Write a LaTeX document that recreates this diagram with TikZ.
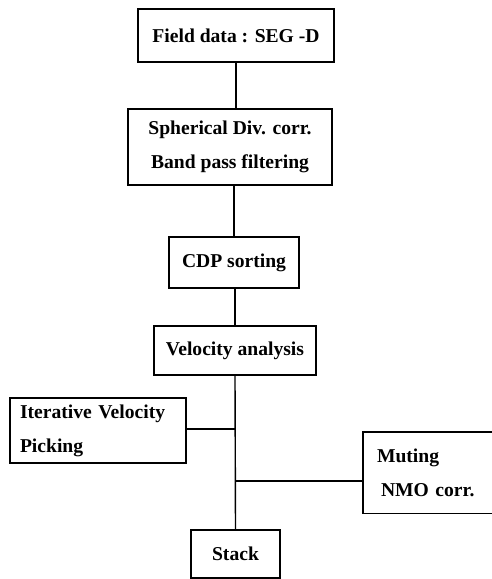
\documentclass[tikz,border=0pt]{standalone}
\usepackage{fontspec}
\setmainfont{Liberation Serif}
\begin{document}
\begin{tikzpicture}[x=1pt,y=-1pt,
  every node/.style={font=\fontsize{19.6}{34}\selectfont\bfseries},
  boxa/.style={draw,line width=1.4pt,inner sep=0pt,align=center},
  link/.style={line width=1.4pt}]
\useasboundingbox (0,0) rectangle (491,579);
\node[boxa,minimum width=196pt,minimum height=53pt] (fd) at (236,35.5) {Field data : SEG -D};
\node[boxa,minimum width=204pt,minimum height=76pt] (sd) at (230,147) {Spherical Div. corr.\\Band pass filtering};
\node[boxa,minimum width=130pt,minimum height=51pt] (cdp) at (234,262.5) {CDP sorting};
\node[boxa,minimum width=162pt,minimum height=49pt] (vel) at (235,350.5) {Velocity analysis};
\node[boxa,minimum width=89pt,minimum height=48pt] (st) at (235.5,554) {Stack};
\node[draw,line width=1.4pt,inner xsep=10pt,inner ysep=0pt,text width=156pt,align=left,minimum height=65pt] (it) at (98,430.5) {Iterative Velocity\\Picking};
\node[inner xsep=14pt,inner ysep=0pt,text width=114pt,align=left,minimum height=81pt] (mu) at (434,472.5) {Muting\\\hspace*{4pt}NMO corr.};
\draw[link] (mu.north east) -- (mu.north west) -- (mu.south west) -- (mu.south east);
\draw[link] (fd.south) -- (fd.south |- sd.north);
\draw[link] (cdp.north) -- (cdp.north |- sd.south);
\draw[link] (vel.north) -- (vel.north |- cdp.south);
\draw[link] (vel.south) -- (st.north);
\draw[link] ([yshift=1.5pt]it.east) -- ([yshift=1.5pt]it.east -| vel.south);
\draw[link] ([yshift=-8.5pt]mu.west) -- ([yshift=-8.5pt]mu.west -| vel.south);
\end{tikzpicture}
\end{document}
